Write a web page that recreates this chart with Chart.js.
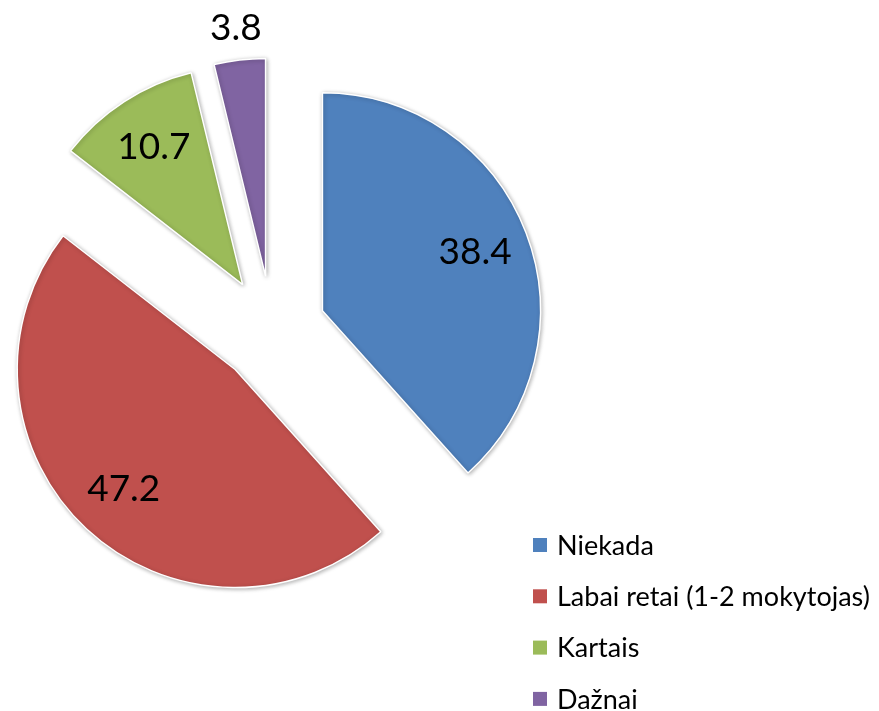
<!DOCTYPE html>
<html>
<head>
<meta charset="utf-8">
<script src="https://cdn.jsdelivr.net/npm/chart.js@4.4.1/dist/chart.umd.min.js"></script>
<style>
    html, body { margin: 0; padding: 0; background: #fff; }
    canvas { display: block; }
</style>
</head>
<body>
<canvas id="pieChart" width="879" height="711"></canvas>
<script>
// chart data
var labels = ['Niekada', 'Labai retai (1-2 mokytojas)', 'Kartais', 'Dažnai'];
var values = [38.4, 47.2, 10.7, 3.8];
var valueLabels = ['38.4', '47.2', '10.7', '3.8'];
var colors = ['#4F81BD', '#C0504D', '#9BBB59', '#8064A2'];

var EXPLODE = 54;      // how far every slice is pulled away from the centre
var RADIUS = 218;

// draw each arc shifted out along its mid angle (same distance for all slices)
var explodePlugin = {
    id: 'explode',
    beforeDatasetsDraw: function (chart) {
        var ctx = chart.ctx;
        chart.getDatasetMeta(0).data.forEach(function (arc) {
            var mid = (arc.startAngle + arc.endAngle) / 2;
            ctx.save();
            ctx.translate(Math.cos(mid) * EXPLODE, Math.sin(mid) * EXPLODE);
            ctx.shadowColor = 'rgba(0, 0, 0, 0.3)';
            ctx.shadowBlur = 4;
            ctx.shadowOffsetX = 1;
            ctx.shadowOffsetY = 1;
            arc.draw(ctx);
            ctx.restore();
        });
        return false; // skip default drawing
    }
};

// value labels + legend
var labelPlugin = {
    id: 'valueLabels',
    afterDraw: function (chart) {
        var ctx = chart.ctx;
        var meta = chart.getDatasetMeta(0);
        var total = values.reduce(function (a, b) { return a + b; }, 0);

        ctx.save();
        ctx.fillStyle = '#000';
        ctx.font = '37px Lato';
        ctx.textAlign = 'center';
        ctx.textBaseline = 'middle';
        meta.data.forEach(function (arc, i) {
            var mid = (arc.startAngle + arc.endAngle) / 2;
            var dist = values[i] / total < 0.05
                ? EXPLODE + arc.outerRadius + 32   // too small, put it outside
                : EXPLODE + arc.outerRadius * 0.75;
            ctx.fillText(valueLabels[i], arc.x + Math.cos(mid) * dist, arc.y + Math.sin(mid) * dist);
        });

        // legend, bottom right
        ctx.font = '27px Lato';
        ctx.textAlign = 'left';
        labels.forEach(function (label, i) {
            var y = 545 + i * 51.3;
            ctx.fillStyle = colors[i];
            ctx.fillRect(533, y - 7, 14, 14);
            ctx.fillStyle = '#000';
            ctx.fillText(label, 557, y + 1);
        });
        ctx.restore();
    }
};

function drawChart() {
    var ctx = document.getElementById('pieChart').getContext('2d');
    new Chart(ctx, {
        type: 'pie',
        data: {
            labels: labels,
            datasets: [{
                data: values,
                backgroundColor: colors,
                borderColor: '#fff',
                borderWidth: 1.5,
                radius: RADIUS
            }]
        },
        options: {
            responsive: false,
            animation: false,
            layout: {
                padding: { left: 0, top: 0, right: 335, bottom: 51 }
            },
            plugins: {
                legend: { display: false },
                tooltip: { enabled: false }
            }
        },
        plugins: [explodePlugin, labelPlugin]
    });
}

Promise.all([document.fonts.load('37px Lato'), document.fonts.load('27px Lato')])
    .then(drawChart, drawChart);
</script>
</body>
</html>
